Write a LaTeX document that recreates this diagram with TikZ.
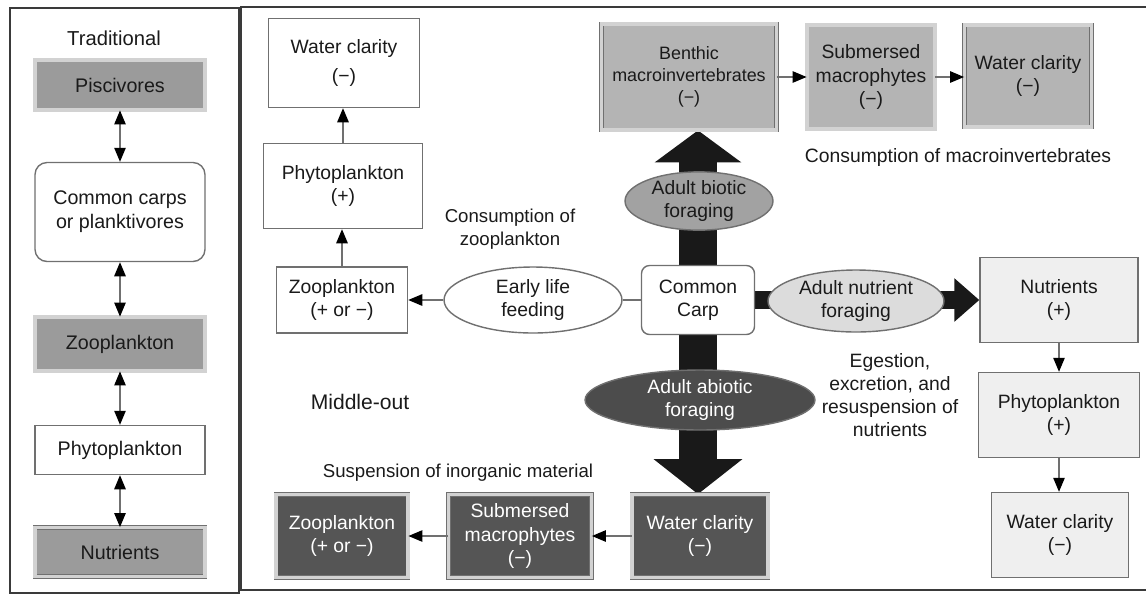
\documentclass[tikz,border=0pt]{standalone}
\usepackage{fontspec}
\setmainfont{Liberation Sans}
\usepackage{tikz}
\usetikzlibrary{arrows.meta,positioning,shapes.geometric,backgrounds}
\usepackage{xcolor}
\definecolor{frame}{HTML}{3A3A3A}
\definecolor{edge}{HTML}{707070}
\definecolor{tradgray}{HTML}{9B9B9B}
\definecolor{topgray}{HTML}{B4B4B4}
\definecolor{darkbox}{HTML}{555555}
\definecolor{lightbox}{HTML}{EFEFEF}
\definecolor{bevel}{HTML}{D2D2D2}
\definecolor{txt}{HTML}{1A1A1A}

\begin{document}
\begin{tikzpicture}[
    x=0.02cm, y=-0.02cm,
    >={Triangle[length=8pt,width=6.5pt,color=black]},
    every node/.style={text=txt,font=\fontsize{11}{13.2}\selectfont},
    box/.style={rectangle,draw=edge,line width=0.8pt,fill=white,align=center,inner sep=2pt},
    bevelbox/.style={box,line width=0.45pt,double=bevel,double distance=1.8pt},
    tradbox/.style={minimum width=3.4cm,font=\fontsize{11.2}{13.8}\selectfont},
    blob/.style={ellipse,draw=edge,line width=0.8pt,align=center,inner sep=0pt},
    link/.style={->,draw=edge,line width=0.8pt},
    both/.style={<->,draw=edge,line width=0.8pt},
    note/.style={align=center}
]
\useasboundingbox (0,0) rectangle (1146,596);

% Panels
\draw[frame,line width=1pt] (10,8) rectangle (239,593);
\draw[frame,line width=1pt] (1146,7) -- (241,7) -- (241,590) -- (1146,590);

% Traditional chain
\node[note,font=\fontsize{11.5}{14}\selectfont] (trad) at (114,38) {Traditional};
\node[bevelbox,tradbox,fill=tradgray,minimum height=1.0cm] (pisc) at (120,85) {Piscivores};
\node[box,tradbox,rounded corners=0.24cm,minimum height=1.98cm] (carps) at (120,212) {Common carps\\or planktivores};
\node[bevelbox,tradbox,fill=tradgray,minimum height=1.08cm] (zooL) at (120,344) {Zooplankton};
\node[box,tradbox,minimum height=0.98cm] (phytoL) at (120,450) {Phytoplankton};
\node[bevelbox,tradbox,fill=tradgray,minimum height=0.98cm] (nutL) at (120,552) {Nutrients};

\draw[both] (pisc) -- (carps);
\draw[both] (carps) -- (zooL);
\draw[both] (zooL) -- (phytoL);
\draw[both] (phytoL) -- (nutL);

% Middle-out: centre
\node[box,rounded corners=0.16cm,minimum width=2.26cm,minimum height=1.38cm] (carp) at (698,300) {Common\\Carp};

% Early life feeding branch
\node[blob,fill=white,minimum width=3.56cm,minimum height=1.32cm] (early) at (533,300) {Early life\\feeding};
\node[box,minimum width=2.62cm,minimum height=1.32cm] (zooT) at (342,300) {Zooplankton\\(+ or −)};
\node[box,minimum width=3.18cm,minimum height=1.7cm] (phyT) at (343,186) {Phytoplankton\\(+)};
\node[box,minimum width=3.02cm,minimum height=1.78cm] (watT) at (344,63) {Water clarity\\[3pt](−)};
\node[note,font=\fontsize{10.6}{12.8}\selectfont] (zooText) at (510,229) {Consumption of\\zooplankton};

% Adult biotic foraging branch
\node[blob,fill=topgray!90!black,inner xsep=-2pt,minimum width=2.96cm,minimum height=1.06cm] (biotic) at (699,201) {Adult biotic\\foraging};
\node[bevelbox,fill=topgray,font=\fontsize{10.2}{12.4}\selectfont,minimum width=3.5cm,minimum height=2.12cm] (benthic) at (689,77) {Benthic\\macroinvertebrates\\(−)};
\node[bevelbox,fill=topgray,minimum width=2.56cm,minimum height=2.08cm] (macroT) at (871,77) {Submersed\\macrophytes\\(−)};
\node[bevelbox,fill=topgray,minimum width=2.54cm,minimum height=2.04cm] (watR) at (1028,76) {Water clarity\\(−)};
\node[note] (macroText) at (958,157) {Consumption of macroinvertebrates};

% Adult nutrient foraging branch
\node[blob,fill=lightbox!92!black,inner xsep=-8pt,minimum width=3.52cm,minimum height=1.24cm] (nutrient) at (856,301) {Adult nutrient\\foraging};
\node[box,fill=lightbox,minimum width=3.16cm,minimum height=1.7cm] (nutR) at (1059,300) {Nutrients\\(+)};
\node[box,fill=lightbox,minimum width=3.22cm,minimum height=1.7cm] (phyR) at (1059,415) {Phytoplankton\\(+)};
\node[box,fill=lightbox,minimum width=2.74cm,minimum height=1.7cm] (watD) at (1060,535) {Water clarity\\(−)};
\node[note] (nutText) at (890,395) {Egestion,\\excretion, and\\resuspension of\\nutrients};

% Adult abiotic foraging branch
\node[blob,fill=darkbox!90!black,text=white,minimum width=4.6cm,minimum height=1.2cm] (abiotic) at (700,400) {Adult abiotic\\foraging};
\node[bevelbox,fill=darkbox,text=white,minimum width=2.72cm,minimum height=1.66cm] (watB) at (700,536) {Water clarity\\(−)};
\node[bevelbox,fill=darkbox,text=white,minimum width=2.86cm,minimum height=1.66cm] (macroB) at (520,536) {Submersed\\macrophytes\\(−)};
\node[bevelbox,fill=darkbox,text=white,minimum width=2.64cm,minimum height=1.66cm] (zooB) at (342,536) {Zooplankton\\(+ or −)};
\node[note,font=\fontsize{10.6}{12.8}\selectfont] (sedText) at (458,473) {Suspension of inorganic material};
\node[note,font=\fontsize{12}{14}\selectfont] (midout) at (360,402) {Middle-out};

% Thick pathways from the carp
\begin{scope}[on background layer]
\draw[black!90,line width=0.76cm,-{Triangle[length=0.64cm,width=1.7cm]}] (carp.north) -- (carp.north |- benthic.south);
\draw[black!90,line width=0.76cm,-{Triangle[length=0.7cm,width=1.74cm]}] (carp.south) -- (carp.south |- watB.north);
\draw[black!90,line width=0.35cm,-{Triangle[length=0.5cm,width=0.84cm]}] (carp.east) -- (carp.east -| nutR.west);
\end{scope}

% Thin links
\draw[edge,line width=0.8pt] (carp.west) -- (early.east);
\draw[link] (early.west) -- (zooT.east);
\draw[link] (zooT.north) -- (zooT.north |- phyT.south);
\draw[link] (phyT.north) -- (phyT.north |- watT.south);
\draw[link] (benthic.east) -- (macroT.west);
\draw[link] (macroT.east) -- (macroT.east -| watR.west);
\draw[link] (nutR.south) -- (phyR.north);
\draw[link] (phyR.south) -- (phyR.south |- watD.north);
\draw[link] (watB.west) -- (macroB.east);
\draw[link] (macroB.west) -- (zooB.east);

\end{tikzpicture}
\end{document}
